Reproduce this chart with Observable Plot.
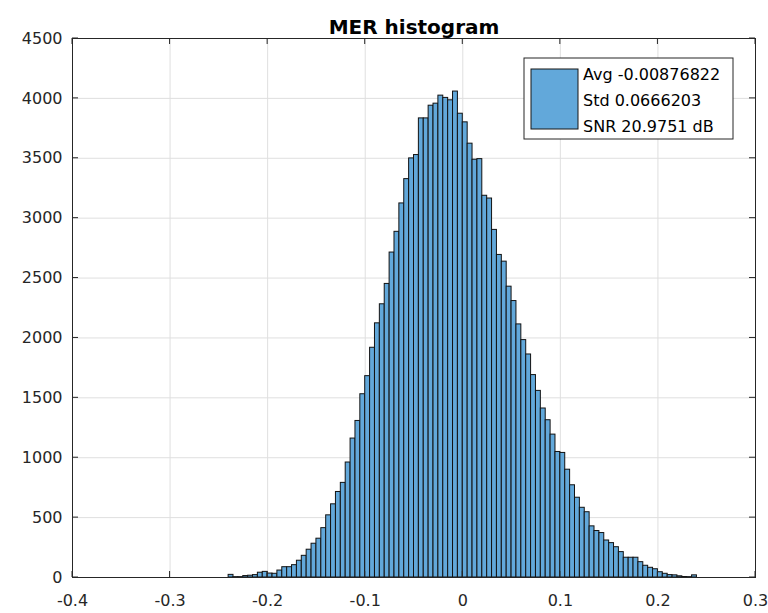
<!DOCTYPE html>
<html>
<head>
<meta charset="utf-8">
<script src="https://cdn.jsdelivr.net/npm/d3@7"></script>
<script src="https://cdn.jsdelivr.net/npm/@observablehq/plot@0.6"></script>
<style>
  html, body { margin: 0; padding: 0; background: #fff; }
</style>
</head>
<body>
<div id="chart"></div>
<script>
const titleText = "MER histogram";

// Left edges of the histogram bins (bin width 0.005)
const binLeft = [
  -0.240, -0.235, -0.230, -0.225, -0.220, -0.215, -0.210, -0.205, -0.200, -0.195,
  -0.190, -0.185, -0.180, -0.175, -0.170, -0.165, -0.160, -0.155, -0.150, -0.145,
  -0.140, -0.135, -0.130, -0.125, -0.120, -0.115, -0.110, -0.105, -0.100, -0.095,
  -0.090, -0.085, -0.080, -0.075, -0.070, -0.065, -0.060, -0.055, -0.050, -0.045,
  -0.040, -0.035, -0.030, -0.025, -0.020, -0.015, -0.010, -0.005,  0.000,  0.005,
   0.010,  0.015,  0.020,  0.025,  0.030,  0.035,  0.040,  0.045,  0.050,  0.055,
   0.060,  0.065,  0.070,  0.075,  0.080,  0.085,  0.090,  0.095,  0.100,  0.105,
   0.110,  0.115,  0.120,  0.125,  0.130,  0.135,  0.140,  0.145,  0.150,  0.155,
   0.160,  0.165,  0.170,  0.175,  0.180,  0.185,  0.190,  0.195,  0.200,  0.205,
   0.210,  0.215,  0.220,  0.225,  0.230,  0.235
];
const binRight = [
  -0.235, -0.230, -0.225, -0.220, -0.215, -0.210, -0.205, -0.200, -0.195, -0.190,
  -0.185, -0.180, -0.175, -0.170, -0.165, -0.160, -0.155, -0.150, -0.145, -0.140,
  -0.135, -0.130, -0.125, -0.120, -0.115, -0.110, -0.105, -0.100, -0.095, -0.090,
  -0.085, -0.080, -0.075, -0.070, -0.065, -0.060, -0.055, -0.050, -0.045, -0.040,
  -0.035, -0.030, -0.025, -0.020, -0.015, -0.010, -0.005,  0.000,  0.005,  0.010,
   0.015,  0.020,  0.025,  0.030,  0.035,  0.040,  0.045,  0.050,  0.055,  0.060,
   0.065,  0.070,  0.075,  0.080,  0.085,  0.090,  0.095,  0.100,  0.105,  0.110,
   0.115,  0.120,  0.125,  0.130,  0.135,  0.140,  0.145,  0.150,  0.155,  0.160,
   0.165,  0.170,  0.175,  0.180,  0.185,  0.190,  0.195,  0.200,  0.205,  0.210,
   0.215,  0.220,  0.225,  0.230,  0.235,  0.240
];
const binCounts = [
    22,    3,    3,   12,   15,   20,   40,   47,   33,   31,
    58,   86,   86,  103,  140,  181,  232,  282,  324,  412,
   519,  611,  714,  790,  960, 1160, 1307, 1530, 1681, 1918,
  2122, 2281, 2451, 2713, 2886, 3123, 3326, 3499, 3527, 3833,
  3833, 3939, 3956, 4023, 4004, 3984, 4057, 3872, 3800, 3622,
  3488, 3493, 3187, 3164, 2902, 2693, 2637, 2428, 2308, 2113,
  1982, 1862, 1690, 1558, 1411, 1313, 1193, 1048, 1040,  900,
   770,  666,  582,  545,  427,  388,  371,  309,  287,  253,
   212,  165,  165,  165,  128,   98,   81,   69,   44,   31,
    20,   18,   10,    4,    3,   18
];

const xTicks = [-0.4, -0.3, -0.2, -0.1, 0, 0.1, 0.2, 0.3];
const xTickLabels = ["-0.4", "-0.3", "-0.2", "-0.1", "0", "0.1", "0.2", "0.3"];
const yTicks = [0, 500, 1000, 1500, 2000, 2500, 3000, 3500, 4000, 4500];
const yTickLabels = ["0", "500", "1000", "1500", "2000", "2500", "3000", "3500", "4000", "4500"];

const legendLines = ["Avg -0.00876822", "Std 0.0666203", "SNR 20.9751 dB"];

const bins = binLeft.map((x1, i) => ({x1, x2: binRight[i], count: binCounts[i]}));

const barFill = "#62a8da";
const axisColor = "#262626";
const font = "DejaVu Sans";

const plot = Plot.plot({
  width: 768,
  height: 613,
  marginLeft: 72,
  marginRight: 13,
  marginTop: 38,
  marginBottom: 36,
  x: {domain: [-0.4, 0.3], label: null},
  y: {domain: [0, 4500], label: null},
  style: {fontFamily: font, fontSize: "16px", color: axisColor, background: "#fff"},
  marks: [
    Plot.gridX(xTicks, {stroke: "#dfdfdf", strokeOpacity: 1}),
    Plot.gridY(yTicks, {stroke: "#dfdfdf", strokeOpacity: 1}),
    Plot.rect(bins, {x1: "x1", x2: "x2", y1: 0, y2: "count", fill: barFill, stroke: "#121212", strokeWidth: 1}),
    Plot.frame({stroke: axisColor, strokeWidth: 1}),
    Plot.axisX(xTicks, {tickSize: 0, tickPadding: 17, fontSize: 16, label: null, tickFormat: (d) => xTickLabels[xTicks.indexOf(d)]}),
    Plot.axisY(yTicks, {tickSize: 0, tickPadding: 10, fontSize: 16, label: null, tickFormat: (d) => yTickLabels[yTicks.indexOf(d)]}),
    Plot.text([titleText], {text: d => d, frameAnchor: "top", dy: -19, fontWeight: "bold", fontSize: 20, fill: "#000"})
  ]
});

document.getElementById("chart").appendChild(plot);

// Inward MATLAB-style ticks on all four sides, placed through the plot's scales
const sx = plot.scale("x"), sy = plot.scale("y");
const svg = d3.select(plot);
const x0 = sx.apply(-0.4), x1 = sx.apply(0.3);
const y0 = sy.apply(0), y1 = sy.apply(4500);
const tl = 6;
const tg = svg.append("g").attr("stroke", axisColor).attr("stroke-width", 1);
xTicks.forEach(v => {
  const px = sx.apply(v);
  tg.append("line").attr("x1", px).attr("x2", px).attr("y1", y0).attr("y2", y0 - tl);
  tg.append("line").attr("x1", px).attr("x2", px).attr("y1", y1).attr("y2", y1 + tl);
});
yTicks.forEach(v => {
  const py = sy.apply(v);
  tg.append("line").attr("y1", py).attr("y2", py).attr("x1", x0).attr("x2", x0 + tl);
  tg.append("line").attr("y1", py).attr("y2", py).attr("x1", x1).attr("x2", x1 - tl);
});

// Legend box (top-right, inside the axes)
const lg = svg.append("g").attr("text-anchor", "start");
lg.append("rect").attr("x", 524).attr("y", 58).attr("width", 209).attr("height", 81)
  .attr("fill", "#fff").attr("stroke", axisColor).attr("stroke-width", 1);
lg.append("rect").attr("x", 531).attr("y", 69).attr("width", 47).attr("height", 60)
  .attr("fill", barFill).attr("stroke", "#161616").attr("stroke-width", 1);
legendLines.forEach((t, i) => {
  lg.append("text").attr("x", 583).attr("y", 74 + i * 26)
    .attr("dominant-baseline", "central")
    .attr("text-anchor", "start")
    .attr("font-family", font).attr("font-size", 16).attr("fill", "#000")
    .text(t);
});
</script>
</body>
</html>
